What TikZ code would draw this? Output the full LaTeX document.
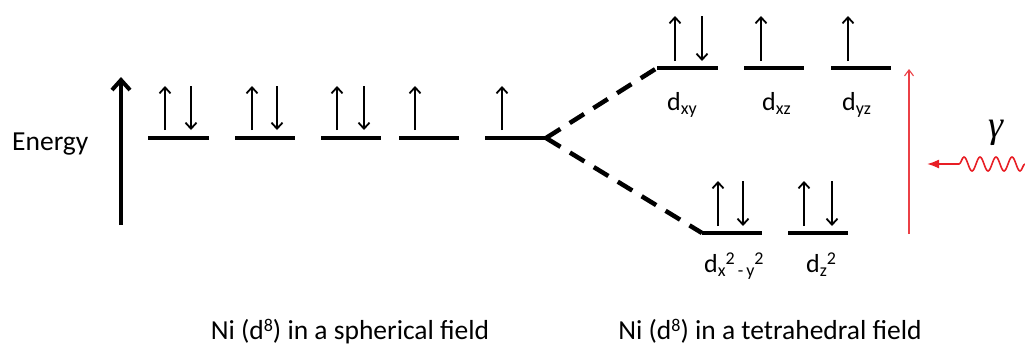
\documentclass[tikz,border=0pt]{standalone}
\usepackage{fontspec}
\setmainfont{Carlito}
\newfontfamily\grkfont{Liberation Serif}
\usetikzlibrary{arrows.meta,decorations.pathmorphing}
\newcommand{\dsub}[1]{\raisebox{-0.35ex}{\fontsize{18}{18}\selectfont #1}}
\newcommand{\dsup}[1]{\raisebox{0.6ex}{\fontsize{18}{18}\selectfont #1}}
\definecolor{photon}{RGB}{232,30,37}
\begin{document}
\begin{tikzpicture}[x=1pt,y=-1pt,
  level/.style={line width=4.5pt},
  spin/.style={line width=1.8pt,-{Straight Barb[length=6pt,width=11pt]}},
  split/.style={line width=4.5pt,dash pattern=on 17pt off 11pt},
  lbl/.style={font=\fontsize{27.5}{32}\selectfont,inner sep=0pt},
  orb/.style={font=\fontsize{26}{30}\selectfont,inner sep=0pt,anchor=base west}
]
\useasboundingbox (0,0) rectangle (1025,346);
% energy axis
\coordinate (ebot) at (121,225);
\coordinate (etop) at (121,77);
\draw[line width=4pt,-{Straight Barb[length=10pt,width=18pt]}] (ebot) -- (etop);
\node[lbl,anchor=west] (energy) at (12,144) {Energy};
% spherical levels
\foreach \n/\a/\b in {1/148/209,2/235/295,3/321/381,4/399/459,5/485/546}{
  \coordinate (L\n-s) at (\a,138);
  \coordinate (L\n-e) at (\b,138);
  \draw[level] (L\n-s) -- (L\n-e);
}
% tetrahedral levels
\foreach \n/\a/\b in {1/657/718,2/744/804,3/831/891}{
  \coordinate (U\n-s) at (\a,68);
  \coordinate (U\n-e) at (\b,68);
  \draw[level] (U\n-s) -- (U\n-e);
}
\foreach \n/\a/\b in {1/702/762,2/788/848}{
  \coordinate (D\n-s) at (\a,233);
  \coordinate (D\n-e) at (\b,233);
  \draw[level] (D\n-s) -- (D\n-e);
}
% splitting lines
\draw[split] (L5-e) -- (U1-s);
\draw[split] (L5-e) -- (D1-s);
% spins, spherical
\foreach \x in {165,252,337,415,502}{\draw[spin] (\x,130) -- (\x,86);}
\foreach \x in {191,277,364}{\draw[spin] (\x,86) -- (\x,130);}
% spins, upper
\foreach \x in {675,761,848}{\draw[spin] (\x,61) -- (\x,16);}
\draw[spin] (702,16) -- (702,61);
% spins, lower
\foreach \x in {718,804}{\draw[spin] (\x,226) -- (\x,181);}
\foreach \x in {743,832}{\draw[spin] (\x,181) -- (\x,226);}
% orbital labels
\node[orb] (dxy) at (667,110) {d\dsub{xy}};
\node[orb] (dxz) at (762,110) {d\dsub{xz}};
\node[orb] (dyz) at (842,110) {d\dsub{yz}};
\node[orb] (dx2y2) at (704,272) {d\dsub{x}\dsup{2}\dsub{\,-\,y}\dsup{2}};
\node[orb] (dz2) at (806,272) {d\dsub{z}\dsup{2}};
% excitation
\coordinate (rbot) at (909,234);
\coordinate (rtop) at (909,69);
\draw[photon!85,line width=1.1pt,-{Straight Barb[length=6pt,width=9pt]}] (rbot) -- (rtop);
\coordinate (w0) at (1025,164);
\coordinate (w1) at (957,164);
\coordinate (w2) at (927,164);
\draw[photon,line width=1.6pt,decorate,decoration={snake,amplitude=7pt,segment length=16pt}] (w0) -- (w1);
\draw[photon,line width=1.6pt,-{Latex[length=12pt,width=9pt]}] (w1) -- (w2);
\node[inner sep=0pt,font=\grkfont\itshape\fontsize{38}{38}\selectfont] (gamma) at (996,133) {γ};
% captions
\node[lbl,anchor=base] (sph) at (350,339) {Ni (d\dsup{8}) in a spherical field};
\node[lbl,anchor=base] (tet) at (770,339) {Ni (d\dsup{8}) in a tetrahedral field};
\end{tikzpicture}
\end{document}
